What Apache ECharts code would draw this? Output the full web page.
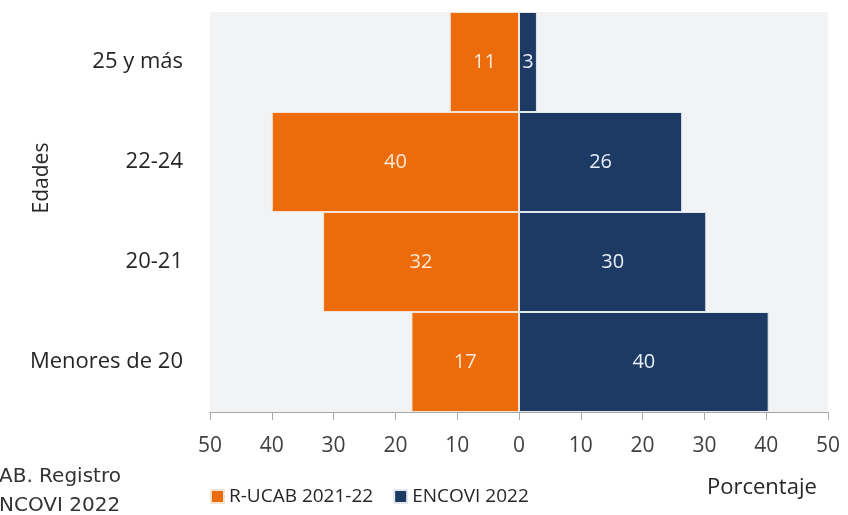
<!DOCTYPE html>
<html><head><meta charset="utf-8">
<script src="https://cdn.jsdelivr.net/npm/echarts@6/dist/echarts.min.js"></script>
<style>html,body{margin:0;padding:0;background:#fff}#c{width:848px;height:515px}</style>
</head><body><div id="c"></div>
<script>
const categories = ['Menores de 20', '20-21', '22-24', '25 y más'];
const rucab = [17.4, 31.7, 40.0, 11.2];
const encovi = [40.4, 30.3, 26.4, 2.9];
const seriesNames = ['R-UCAB 2021-22', 'ENCOVI 2022'];

const chart = echarts.init(document.getElementById('c'));
const font = 'Open Sans';
chart.setOption({
  animation: false,
  grid: {left: 210, right: 20, top: 12, bottom: 103, show: true, backgroundColor: '#f2f3f5', borderWidth: 0},
  xAxis: {
    type: 'value', min: -50, max: 50, interval: 10,
    axisLine: {show: true, lineStyle: {color: '#a6a6a6', width: 1}},
    axisTick: {show: true, length: 8, lineStyle: {color: '#a6a6a6'}},
    splitLine: {show: false},
    axisLabel: {margin: 24, color: '#404040', fontSize: 21, fontFamily: font, formatter: v => Math.abs(v)}
  },
  yAxis: {
    type: 'category', data: categories,
    axisLine: {show: false}, axisTick: {show: false},
    axisLabel: {margin: 27, color: '#262626', fontSize: 22, fontFamily: font}
  },
  legend: {
    data: seriesNames, top: 482, left: 205, itemWidth: 13, itemHeight: 13, itemGap: 20,
    icon: 'rect', textStyle: {color: '#262626', fontSize: 19, fontFamily: font}
  },
  series: [
    {name: seriesNames[0], type: 'bar', stack: 'a', barCategoryGap: 0,
     data: rucab.map(v => -v),
     itemStyle: {color: '#ec6c0c', borderColor: '#f6e3d4', borderWidth: 1},
     label: {show: true, position: 'inside', color: '#fde9d6', fontSize: 20, fontFamily: font, formatter: p => Math.round(Math.abs(p.value))}},
    {name: seriesNames[1], type: 'bar', stack: 'a', barCategoryGap: 0,
     data: encovi,
     itemStyle: {color: '#1c3a63', borderColor: '#e3e8ef', borderWidth: 1},
     label: {show: true, position: 'inside', color: '#e8eef7', fontSize: 20, fontFamily: font, formatter: p => Math.round(p.value)}}
  ],
  graphic: [
    {type: 'text', x: 42, y: 178, rotation: Math.PI / 2, style: {text: 'Edades', fill: '#262626', fontSize: 21, fontFamily: font, align: 'center', verticalAlign: 'middle'}},
    {type: 'text', x: 707, y: 488, style: {text: 'Porcentaje', fill: '#262626', fontSize: 22, fontFamily: font, verticalAlign: 'middle'}},
    {type: 'text', x: -1, y: 477, style: {text: 'AB. Registro', fill: '#333333', fontSize: 20, fontFamily: 'DejaVu Sans', verticalAlign: 'middle'}},
    {type: 'text', x: -1, y: 506, style: {text: 'NCOVI 2022', fill: '#333333', fontSize: 20, fontFamily: 'DejaVu Sans', verticalAlign: 'middle'}}
  ]
});
</script></body></html>
